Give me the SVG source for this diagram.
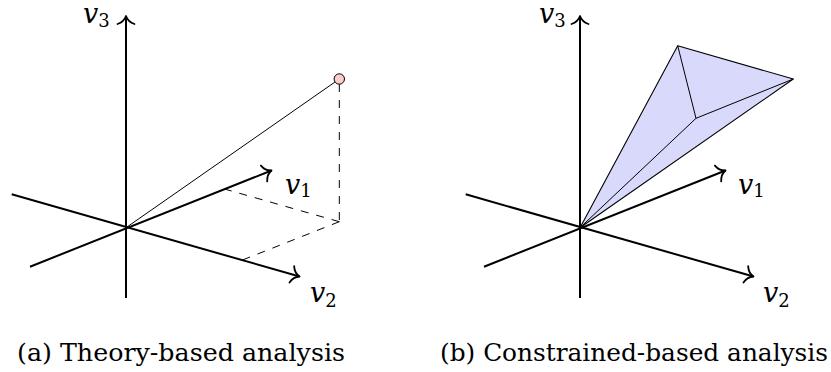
<svg xmlns="http://www.w3.org/2000/svg" width="831" height="372" viewBox="0 0 831 372">
  <defs>
    <marker id="arr" markerUnits="userSpaceOnUse" orient="auto" markerWidth="20" markerHeight="20" refX="0" refY="0" viewBox="-10 -10 20 20" overflow="visible">
      <path d="M -8,-8.5 C -6.5,-4 -3,-1 0,0 C -3,1 -6.5,4 -8,8.5" fill="none" stroke="#000" stroke-width="1.8" stroke-linecap="round" stroke-linejoin="round"/>
    </marker>
  </defs>
  <style>
    .axis { stroke: #000; stroke-width: 2; fill: none; }
    .arrow { marker-end: url(#arr); }
    .thin { stroke: #000; stroke-width: 1; fill: none; }
    .dash { stroke: #000; stroke-width: 1; fill: none; stroke-dasharray: 8 8; }
    .lbl { font-family: 'DejaVu Serif', serif; font-size: 27px; font-style: italic; fill: #000; }
    .sub { font-size: 18px; font-style: normal; }
    .cap { font-family: 'DejaVu Serif', serif; font-size: 24px; fill: #000; }
    .cone { fill: #d9d9fb; stroke: #000; stroke-width: 1.1; stroke-linejoin: round; }
    .pt { fill: #ffcccc; stroke: #000; stroke-width: 1; }
  </style>

  <!-- Panel (a) -->
  <g id="panel-a">
    <g id="connectors-a">
      <line class="axis arrow" x1="126" y1="298" x2="126" y2="16"/>
      <line class="axis arrow" x1="30" y1="266.7" x2="271.5" y2="170.5"/>
      <line class="axis arrow" x1="11.7" y1="194.3" x2="299.5" y2="276.5"/>
      <line class="thin" x1="126" y1="227.7" x2="339.3" y2="79"/>
      <line class="dash" x1="339.3" y1="84" x2="339.3" y2="221.7"/>
      <line class="dash" x1="339.3" y1="221.7" x2="224.1" y2="188.9"/>
      <line class="dash" x1="339.3" y1="221.7" x2="241.2" y2="260.5"/>
    </g>
    <g id="point-a">
      <circle class="pt" cx="339.3" cy="79" r="5.2"/>
    </g>
    <g id="label-v3-a"><text class="lbl" x="83" y="23">v<tspan class="sub" dy="4">3</tspan></text></g>
    <g id="label-v1-a"><text class="lbl" x="285" y="193.5">v<tspan class="sub" dy="3.5">1</tspan></text></g>
    <g id="label-v2-a"><text class="lbl" x="310" y="301.5">v<tspan class="sub" dy="5.5">2</tspan></text></g>
    <g id="caption-a"><text class="cap" x="17" y="361" textLength="328" lengthAdjust="spacingAndGlyphs">(a) Theory-based analysis</text></g>
  </g>

  <!-- Panel (b) -->
  <g id="panel-b">
    <g id="connectors-b">
      <line class="axis arrow" x1="580" y1="298" x2="580" y2="16"/>
      <line class="axis arrow" x1="484" y1="266.7" x2="725.5" y2="170.5"/>
      <line class="axis arrow" x1="465.7" y1="194.3" x2="753.5" y2="276.5"/>
    </g>
    <g id="cone">
      <polygon class="cone" points="580,227.7 677.7,45.7 793.3,79"/>
      <line class="thin" x1="677.7" y1="45.7" x2="696" y2="118.3"/>
      <line class="thin" x1="696" y1="118.3" x2="793.3" y2="79"/>
      <line class="thin" x1="580" y1="227.7" x2="696" y2="118.3"/>
    </g>
    <g id="label-v3-b"><text class="lbl" x="539" y="23">v<tspan class="sub" dy="4">3</tspan></text></g>
    <g id="label-v1-b"><text class="lbl" x="738" y="193.5">v<tspan class="sub" dy="3.5">1</tspan></text></g>
    <g id="label-v2-b"><text class="lbl" x="763" y="301.5">v<tspan class="sub" dy="5.5">2</tspan></text></g>
    <g id="caption-b"><text class="cap" x="440" y="361" textLength="388" lengthAdjust="spacingAndGlyphs">(b) Constrained-based analysis</text></g>
  </g>
</svg>
